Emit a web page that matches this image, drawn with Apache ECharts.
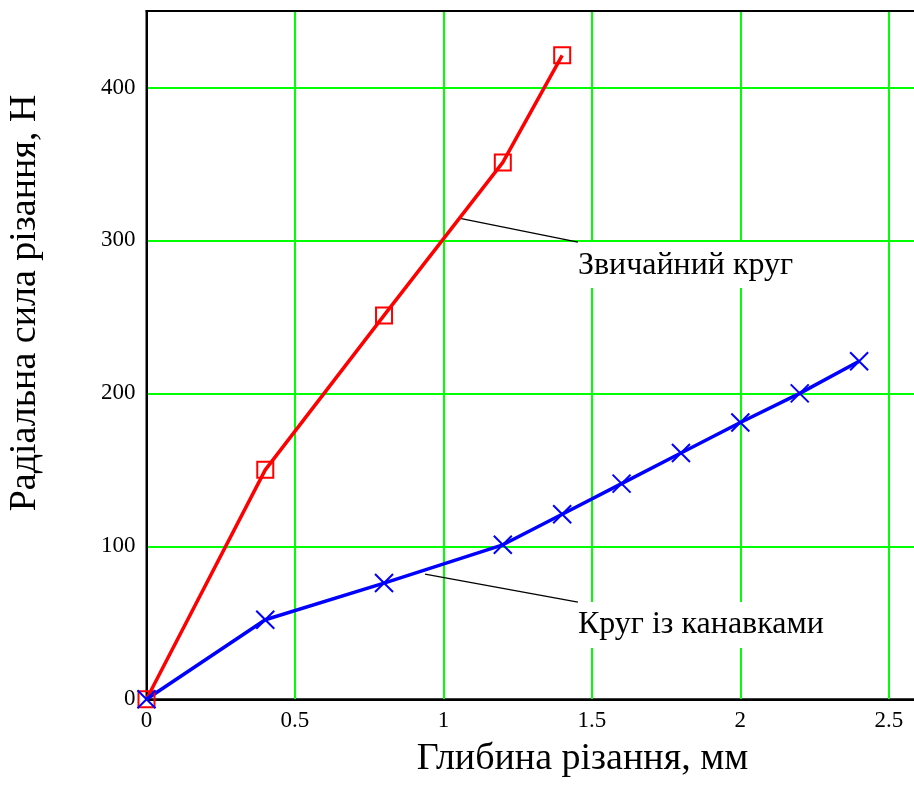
<!DOCTYPE html>
<html>
<head>
<meta charset="utf-8">
<script src="https://cdn.jsdelivr.net/npm/echarts@6/dist/echarts.min.js"></script>
<style>html,body{margin:0;padding:0;background:#fff}#c{width:914px;height:785px}</style>
</head>
<body>
<div id="c"></div>
<script>
// Data
const depthRed = [0, 0.4, 0.8, 1.2, 1.4];
const forceRed = [0, 150, 251, 351, 421];
const depthBlue = [0, 0.4, 0.8, 1.2, 1.4, 1.6, 1.8, 2.0, 2.2, 2.4];
const forceBlue = [0, 52, 76, 101, 121, 141, 161, 181, 200, 221];
const xTicks = [0, 0.5, 1, 1.5, 2, 2.5];
const yTicks = [0, 100, 200, 300, 400];
const labelTexts = ['Звичайний круг', 'Круг із канавками'];
const leaderStart = [[1.052, 314.6], [0.938, 81.9]];
const leaderEnd = [[1.453, 298.9], [1.453, 63.6]];
const xTitle = 'Глибина різання, мм';
const yTitle = 'Радіальна сила різання, Н';

const FONT = 'Liberation Serif, Times New Roman, serif';
const chart = echarts.init(document.getElementById('c'));

const pairs = (xs, ys) => xs.map((x, i) => [x, ys[i]]);

const series = [
  {
    type: 'line', name: 'red', data: pairs(depthRed, forceRed),
    lineStyle: { color: '#ff0000', width: 3.5 },
    symbol: 'rect', symbolSize: 16,
    itemStyle: { color: 'rgba(0,0,0,0)', borderColor: '#ff0000', borderWidth: 2 },
    z: 5, animation: false
  },
  {
    type: 'line', name: 'blue', data: pairs(depthBlue, forceBlue),
    lineStyle: { color: '#0000ff', width: 3.5 },
    symbol: 'path://M0,0L10,10M10,0L0,10', symbolSize: 18,
    itemStyle: { color: 'rgba(0,0,0,0)', borderColor: '#0000ff', borderWidth: 2 },
    z: 5, animation: false
  }
];
labelTexts.forEach((t, i) => {
  series.push({
    type: 'line', data: [leaderStart[i], leaderEnd[i]],
    symbol: 'none', lineStyle: { color: '#000', width: 1.3 }, z: 4, animation: false, silent: true
  });
  series.push({
    type: 'scatter', data: [leaderEnd[i]], symbolSize: 0, z: 3, animation: false, silent: true,
    itemStyle: { opacity: 1 },
    label: {
      show: true, formatter: t, position: [0, 0], align: 'left', verticalAlign: 'top',
      fontFamily: FONT, fontSize: 32, color: '#000', opacity: 1, backgroundColor: '#fff',
      lineHeight: 46, padding: [0, 0, 0, 0], textBorderWidth: 0
    }
  });
});

const hiddenAxisParts = { axisTick: { show: false }, axisLabel: { show: false }, splitLine: { show: false } };

chart.setOption({
  animation: false,
  backgroundColor: '#fff',
  grid: { left: 146.5, top: 11, width: 772, bottom: 85.7, show: true, borderColor: '#000', borderWidth: 2, containLabel: false, outerBoundsMode: 'none' },
  xAxis: [{
    type: 'value', min: 0, max: 2.6, interval: 0.5,
    axisLine: { show: true, lineStyle: { color: '#000', width: 2 } },
    axisTick: { show: false },
    splitLine: { show: true, lineStyle: { color: '#00ff00', width: 2 } },
    axisLabel: {
      fontFamily: FONT, fontSize: 23, color: '#000', margin: 10,
      formatter: v => xTicks.includes(v) ? String(v) : ''
    }
  }, Object.assign({
    type: 'value', position: 'top', min: 0, max: 2.6, interval: 0.5, z: 10,
    axisLine: { show: true, onZero: false, lineStyle: { color: '#000', width: 2 } }
  }, hiddenAxisParts)],
  yAxis: {
    type: 'value', min: 0, max: 450, interval: 100,
    axisLine: { show: true, lineStyle: { color: '#000', width: 2 } },
    axisTick: { show: false },
    splitLine: { show: true, lineStyle: { color: '#00ff00', width: 2 } },
    axisLabel: {
      fontFamily: FONT, fontSize: 23, color: '#000', margin: 11,
      formatter: v => yTicks.includes(v) ? String(v) : ''
    }
  },
  graphic: [
    { type: 'text', x: 582.5, y: 759.5, style: { text: xTitle, font: '38px ' + FONT, fill: '#000', align: 'center', verticalAlign: 'middle' } },
    { type: 'text', x: 25, y: 303, rotation: Math.PI / 2, style: { text: yTitle, font: '38px ' + FONT, fill: '#000', align: 'center', verticalAlign: 'middle' } }
  ],
  series: series
});
</script>
</body>
</html>
